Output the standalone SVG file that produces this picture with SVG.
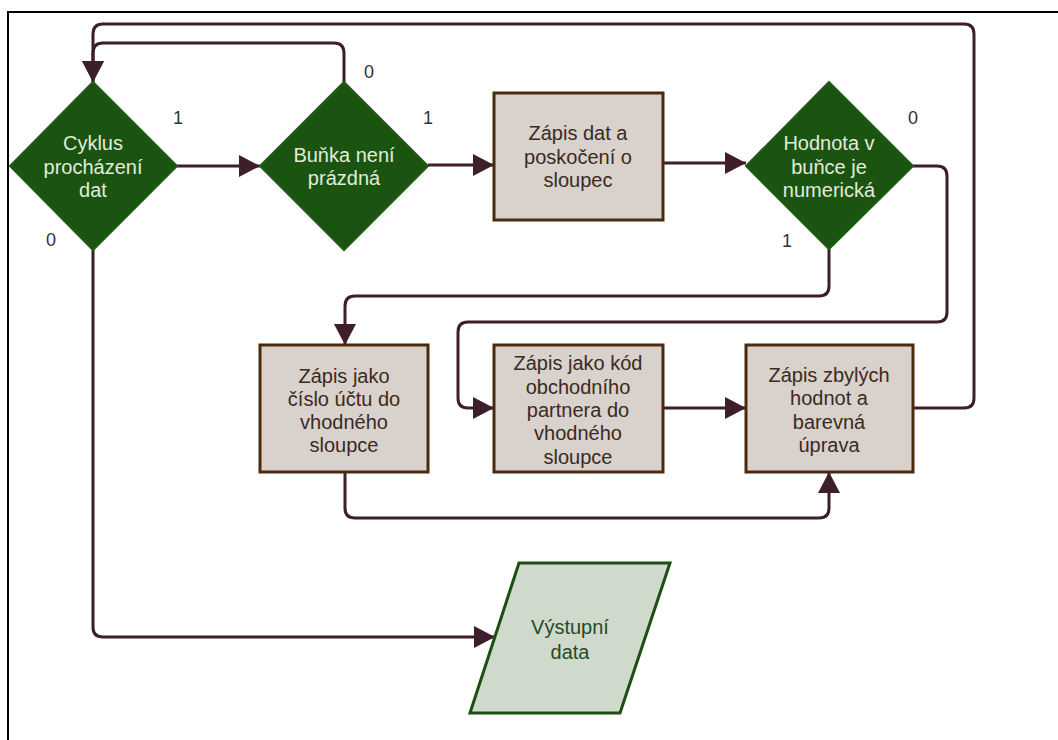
<svg xmlns="http://www.w3.org/2000/svg" width="1058" height="740" viewBox="0 0 1058 740">
<style>
text{font-family:"Liberation Sans",Arial,sans-serif;font-size:20px;text-anchor:middle}
.dia{fill:#1a5410;stroke:#1f5a16;stroke-width:2}
.dt{fill:#e2ebdc}
.box{fill:#d9d1cb;stroke:#4b2a0c;stroke-width:3}
.bt{fill:#3a2a22}
.io{fill:#cfd9cc;stroke:#1c5012;stroke-width:3}
.it{fill:#284a22}
.lbl{fill:#333;font-size:18px}
.con{fill:none;stroke:#3c1f2b;stroke-width:3}
</style>
<defs>
<marker id="arr" markerUnits="userSpaceOnUse" markerWidth="22" markerHeight="22" refX="21" refY="11" orient="auto">
<path d="M0,0 L21,11 L0,22 Z" fill="#3c1f2b"/>
</marker>
</defs>
<rect width="1058" height="740" fill="#fff"/>
<path d="M8,740 V12 H1058" fill="none" stroke="#000" stroke-width="2"/>
<g id="connectors">
<path class="con" d="M177,166 H260" marker-end="url(#arr)"/>
<path class="con" d="M428,165 H494" marker-end="url(#arr)"/>
<path class="con" d="M663,163 H746" marker-end="url(#arr)"/>
<path class="con" d="M344,82 V53 Q344,43 334,43 H103 Q93,43 93,53 V82" marker-end="url(#arr)"/>
<path class="con" d="M913,408 H964 Q974,408 974,398 V34 Q974,24 964,24 H103 Q93,24 93,34 V82" marker-end="url(#arr)"/>
<path class="con" d="M829,249 V286 Q829,296 819,296 H355 Q345,296 345,306 V345" marker-end="url(#arr)"/>
<path class="con" d="M913,166 H937 Q947,166 947,176 V312 Q947,322 937,322 H468 Q458,322 458,332 V398 Q458,408 468,408 H494" marker-end="url(#arr)"/>
<path class="con" d="M663,408 H746" marker-end="url(#arr)"/>
<path class="con" d="M345,472 V508 Q345,518 355,518 H819 Q829,518 829,508 V472" marker-end="url(#arr)"/>
<path class="con" d="M93,250 V627 Q93,637 103,637 H495" marker-end="url(#arr)"/>
</g>
<g id="labels">
<text class="lbl" x="178" y="124">1</text>
<text class="lbl" x="428" y="124">1</text>
<text class="lbl" x="369" y="78">0</text>
<text class="lbl" x="51" y="246">0</text>
<text class="lbl" x="913" y="124">0</text>
<text class="lbl" x="787" y="247">1</text>
</g>
<g id="n_cyklus">
<polygon class="dia" points="93,82 177,166 93,250 10,166"/>
<text class="dt" x="93" y="150">Cyklus</text>
<text class="dt" x="93" y="174">procházení</text>
<text class="dt" x="93" y="197">dat</text>
</g>
<g id="n_bunka">
<polygon class="dia" points="344,82 428,166 344,250 260,166"/>
<text class="dt" x="344" y="162">Buňka není</text>
<text class="dt" x="344" y="185">prázdná</text>
</g>
<g id="n_zapis_dat">
<rect class="box" x="494" y="93" width="169" height="127"/>
<text class="bt" x="578" y="140">Zápis dat a</text>
<text class="bt" x="578" y="164">poskočení o</text>
<text class="bt" x="578" y="187">sloupec</text>
</g>
<g id="n_hodnota">
<polygon class="dia" points="829,82 913,166 829,249 746,166"/>
<text class="dt" x="829" y="150">Hodnota v</text>
<text class="dt" x="829" y="174">buňce je</text>
<text class="dt" x="829" y="197">numerická</text>
</g>
<g id="n_cislo">
<rect class="box" x="260" y="345" width="168" height="127"/>
<text class="bt" x="344" y="383">Zápis jako</text>
<text class="bt" x="344" y="406">číslo účtu do</text>
<text class="bt" x="344" y="429">vhodného</text>
<text class="bt" x="344" y="452">sloupce</text>
</g>
<g id="n_kod">
<rect class="box" x="494" y="345" width="169" height="127"/>
<text class="bt" x="578" y="370">Zápis jako kód</text>
<text class="bt" x="578" y="394">obchodního</text>
<text class="bt" x="578" y="417">partnera do</text>
<text class="bt" x="578" y="440">vhodného</text>
<text class="bt" x="578" y="464">sloupce</text>
</g>
<g id="n_zbylych">
<rect class="box" x="746" y="345" width="167" height="127"/>
<text class="bt" x="829" y="382">Zápis zbylých</text>
<text class="bt" x="829" y="405">hodnot a</text>
<text class="bt" x="829" y="429">barevná</text>
<text class="bt" x="829" y="452">úprava</text>
</g>
<g id="n_vystup">
<polygon class="io" points="519,563 670,563 620,713 470,713"/>
<text class="it" x="570" y="634">Výstupní</text>
<text class="it" x="570" y="659">data</text>
</g>
</svg>
